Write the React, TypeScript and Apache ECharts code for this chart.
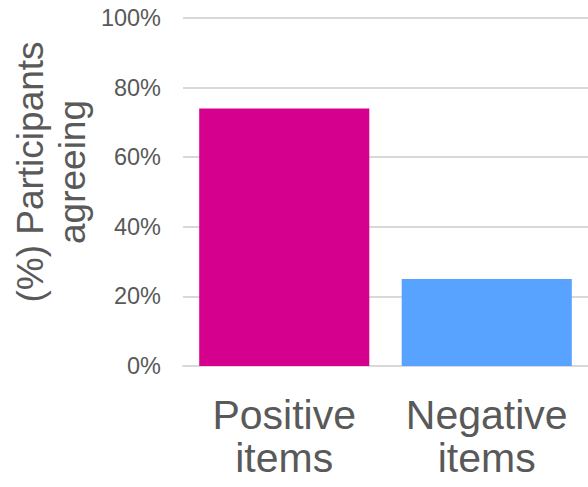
import React, { useEffect, useRef } from "react";
import * as echarts from "echarts";

const categories = ["Positive\nitems", "Negative\nitems"];
const values = [74, 25];
const barColors = ["#D6008F", "#57A3FF"];
const yTicks = [0, 20, 40, 60, 80, 100];
const axisTitle = "(%) Participants\nagreeing";

export default function App() {
  const ref = useRef<HTMLDivElement>(null);
  useEffect(() => {
    if (!ref.current) return;
    const chart = echarts.init(ref.current, undefined, { renderer: "svg" });
    const font = "Liberation Sans, Arial, sans-serif";
    chart.setOption({
      animation: false,
      grid: { left: 183, right: 0, top: 18, bottom: 121, containLabel: false },
      xAxis: {
        type: "category",
        data: categories,
        axisTick: { show: false },
        axisLine: { show: true, lineStyle: { color: "#d9d9d9", width: 2 } },
        axisLabel: {
          color: "#595959",
          fontSize: 41,
          fontFamily: font,
          lineHeight: 43,
          margin: 27,
          interval: 0,
        },
      },
      yAxis: {
        type: "value",
        min: 0,
        max: yTicks[yTicks.length - 1],
        interval: 20,
        axisLine: { show: false },
        axisTick: { show: false },
        splitLine: { lineStyle: { color: "#d9d9d9", width: 2 } },
        axisLabel: {
          color: "#595959",
          fontSize: 23.5,
          fontFamily: font,
          margin: 22,
          formatter: (v: number) => v + "%",
        },
      },
      series: [
        {
          type: "bar",
          data: values.map((v, i) => ({ value: v, itemStyle: { color: barColors[i] } })),
          barCategoryGap: "16%",
        },
      ],
      graphic: [
        {
          type: "text",
          x: 51,
          y: 172,
          rotation: Math.PI / 2,
          style: {
            text: axisTitle,
            fill: "#595959",
            font: `37px ${font}`,
            lineHeight: 42,
            align: "center",
            verticalAlign: "middle",
          },
        },
      ],
    });
    return () => chart.dispose();
  }, []);
  return (
    <div
      ref={ref}
      style={{ position: "absolute", left: 0, top: 0, width: 588, height: 487 }}
    />
  );
}
